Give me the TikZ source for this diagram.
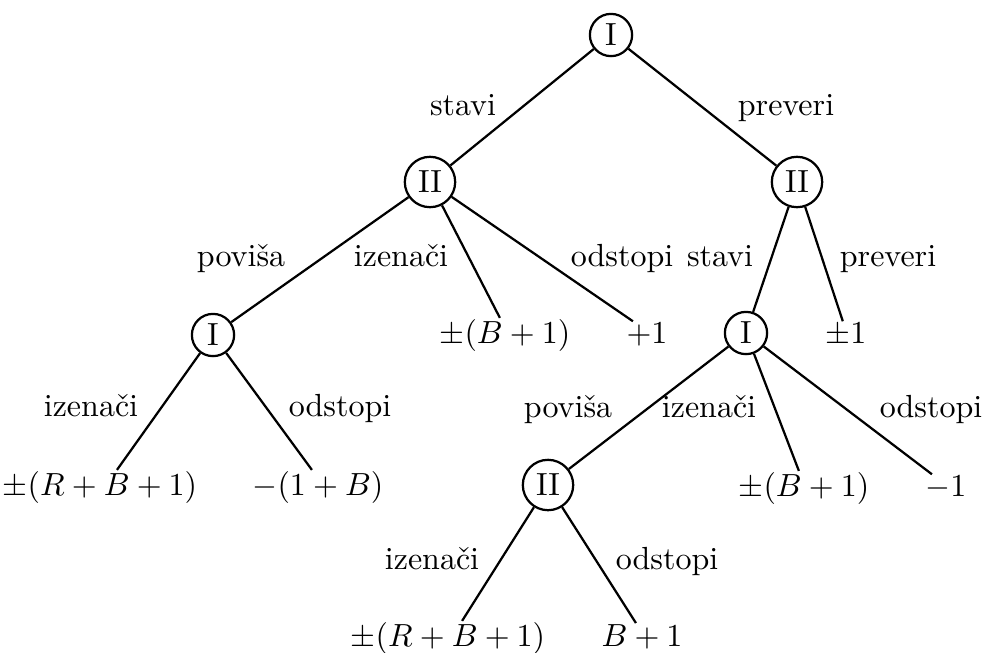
\documentclass[tikz,border=0pt]{standalone}
\usepackage{amsmath}

\begin{document}
\begin{tikzpicture}[
  x=0.3125pt, y=-0.3125pt, line width=0.7pt,
  player/.style={draw, circle, inner sep=2pt, line width=0.7pt},
  payoff/.style={inner sep=0pt, anchor=base},
  move/.style={inner sep=0pt, anchor=base},
]
\useasboundingbox (0,0) rectangle (986,652);
% ---- players ----
\node[player] (r)  at (611,35)  {I};
\node[player] (a)  at (430,182) {II};
\node[player] (b)  at (797,182) {II};
\node[player] (c)  at (213,335) {I};
\node[player] (d)  at (746,333) {I};
\node[player] (e)  at (548,485) {II};
% ---- payoffs ----
\node[payoff] (p1) at (505,343) {$\pm(B+1)$};
\node[payoff] (p2) at (647,343) {$+1$};
\node[payoff] (p3) at (846,343) {$\pm1$};
\node[payoff] (p4) at (100,495) {$\pm(R+B+1)$};
\node[payoff] (p5) at (318,495) {$-(1+B)$};
\node[payoff] (p6) at (804,496) {$\pm(B+1)$};
\node[payoff] (p7) at (946,496) {$-1$};
\node[payoff] (p8) at (448,646) {$\pm(R+B+1)$};
\node[payoff] (p9) at (642,646) {$B+1$};
% ---- moves ----
\node[move] (m1)  at (463,115) {stavi};
\node[move] (m2)  at (786,115) {preveri};
\node[move] (m3)  at (241,266) {poviša};
\node[move] (m4)  at (401,266) {izenači};
\node[move] (m5)  at (622,266) {odstopi};
\node[move] (m6)  at (720,266) {stavi};
\node[move] (m7)  at (888,266) {preveri};
\node[move] (m8)  at (91,416)  {izenači};
\node[move] (m9)  at (340,416) {odstopi};
\node[move] (m10) at (568,417) {poviša};
\node[move] (m11) at (709,417) {izenači};
\node[move] (m12) at (931,417) {odstopi};
\node[move] (m13) at (432,569) {izenači};
\node[move] (m14) at (667,569) {odstopi};
% ---- edges ----
\draw (r) -- (a);
\draw (r) -- (b);
\draw (a) -- (c);
\draw (a) -- ([xshift=-1.6pt]p1.north);
\draw (a) -- ([xshift=-4.4pt]p2.north);
\draw (b) -- (d);
\draw (b) -- ([xshift=-1pt]p3.north);
\draw (c) -- ([xshift=5.3pt]p4.north);
\draw (c) -- ([xshift=-1.9pt]p5.north);
\draw (d) -- (e);
\draw (d) -- ([xshift=-1.6pt]p6.north);
\draw (d) -- ([xshift=-4.4pt]p7.north);
\draw (e) -- ([xshift=4.4pt]p8.north);
\draw (e) -- ([xshift=-1.9pt]p9.north);
\end{tikzpicture}
\end{document}
